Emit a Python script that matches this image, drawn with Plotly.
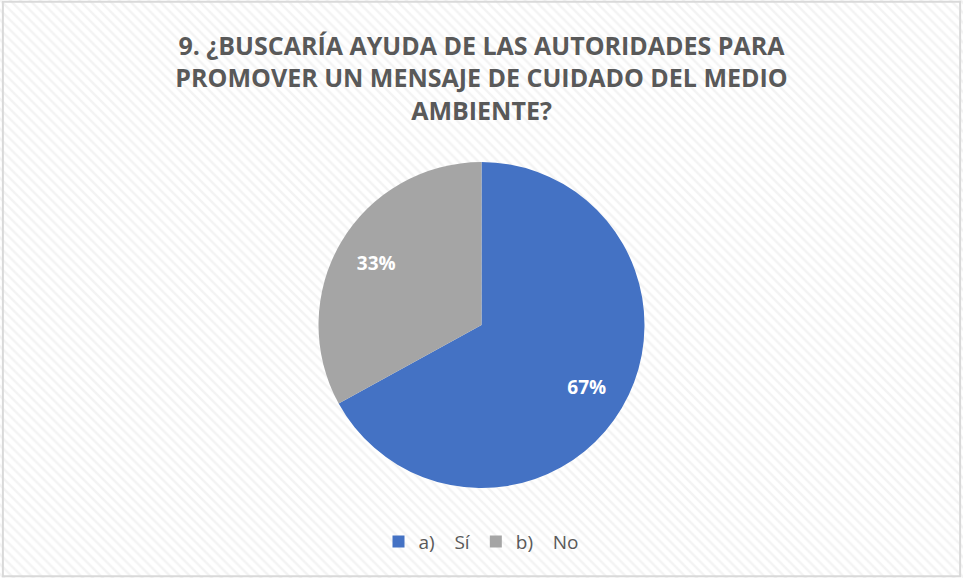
import plotly.graph_objects as go

# Data
labels = ['a)\u00a0\u00a0\u00a0\u00a0Sí', 'b)\u00a0\u00a0\u00a0\u00a0No']
values = [67, 33]
colors = ['#4472C4', '#A5A5A5']

title_text = ('<b>9. ¿BUSCARÍA AYUDA DE LAS AUTORIDADES PARA<br>'
              'PROMOVER UN MENSAJE DE CUIDADO DEL MEDIO<br>AMBIENTE?</b>')

pie_domain = dict(x=[0.2, 0.8], y=[0.1557, 0.7197])

fig = go.Figure()

# Faint diagonal hatching on the background
fig.add_trace(go.Scatter(
    x=[0, 1, 1, 0, 0],
    y=[0, 0, 1, 1, 0],
    mode='lines',
    fill='toself',
    fillcolor='white',
    fillpattern=dict(shape='\\', fgcolor='#e8e8e8', bgcolor='white', size=7, solidity=0.35),
    line=dict(width=0),
    hoverinfo='skip',
    showlegend=False,
))

# The pie itself
fig.add_trace(go.Pie(
    labels=labels,
    values=values,
    sort=False,
    direction='clockwise',
    rotation=0,
    marker=dict(colors=colors, line=dict(color='white', width=0)),
    textinfo='none',
    domain=pie_domain,
    hoverinfo='label+percent',
))

# Transparent ring on top only to place the percentage labels further out
fig.add_trace(go.Pie(
    labels=labels,
    values=values,
    sort=False,
    direction='clockwise',
    rotation=0,
    hole=0.5,
    marker=dict(colors=['rgba(0,0,0,0)'] * len(values), line=dict(width=0)),
    texttemplate='%{percent:.0%}',
    textposition='inside',
    insidetextorientation='horizontal',
    textfont=dict(family='Open Sans', size=19, color='white', weight='bold'),
    domain=pie_domain,
    hoverinfo='skip',
    showlegend=False,
))

fig.update_layout(
    width=963,
    height=578,
    margin=dict(l=0, r=0, t=0, b=0),
    paper_bgcolor='white',
    plot_bgcolor='white',
    font=dict(family='Open Sans', color='#595959'),
    title=dict(
        text=title_text,
        x=0.5,
        xanchor='center',
        y=0.905,
        yanchor='top',
        font=dict(family='Open Sans', size=25, color='#595959', lineposition='none'),
    ),
    xaxis=dict(range=[0, 1], visible=False, fixedrange=True, domain=[0, 1]),
    yaxis=dict(range=[0, 1], visible=False, fixedrange=True, domain=[0, 1]),
    legend=dict(
        orientation='h',
        x=0.5,
        xanchor='center',
        y=0.03,
        yanchor='bottom',
        font=dict(family='Open Sans', size=19, color='#595959'),
        bgcolor='rgba(0,0,0,0)',
        itemwidth=30,
    ),
    shapes=[dict(
        type='rect', xref='paper', yref='paper',
        x0=0.003, y0=0.003, x1=0.997, y1=0.997,
        line=dict(color='#d9d9d9', width=2),
    )],
)

fig.write_html("out.html", config={'displayModeBar': False},
               post_script="document.body.style.margin='0';")
